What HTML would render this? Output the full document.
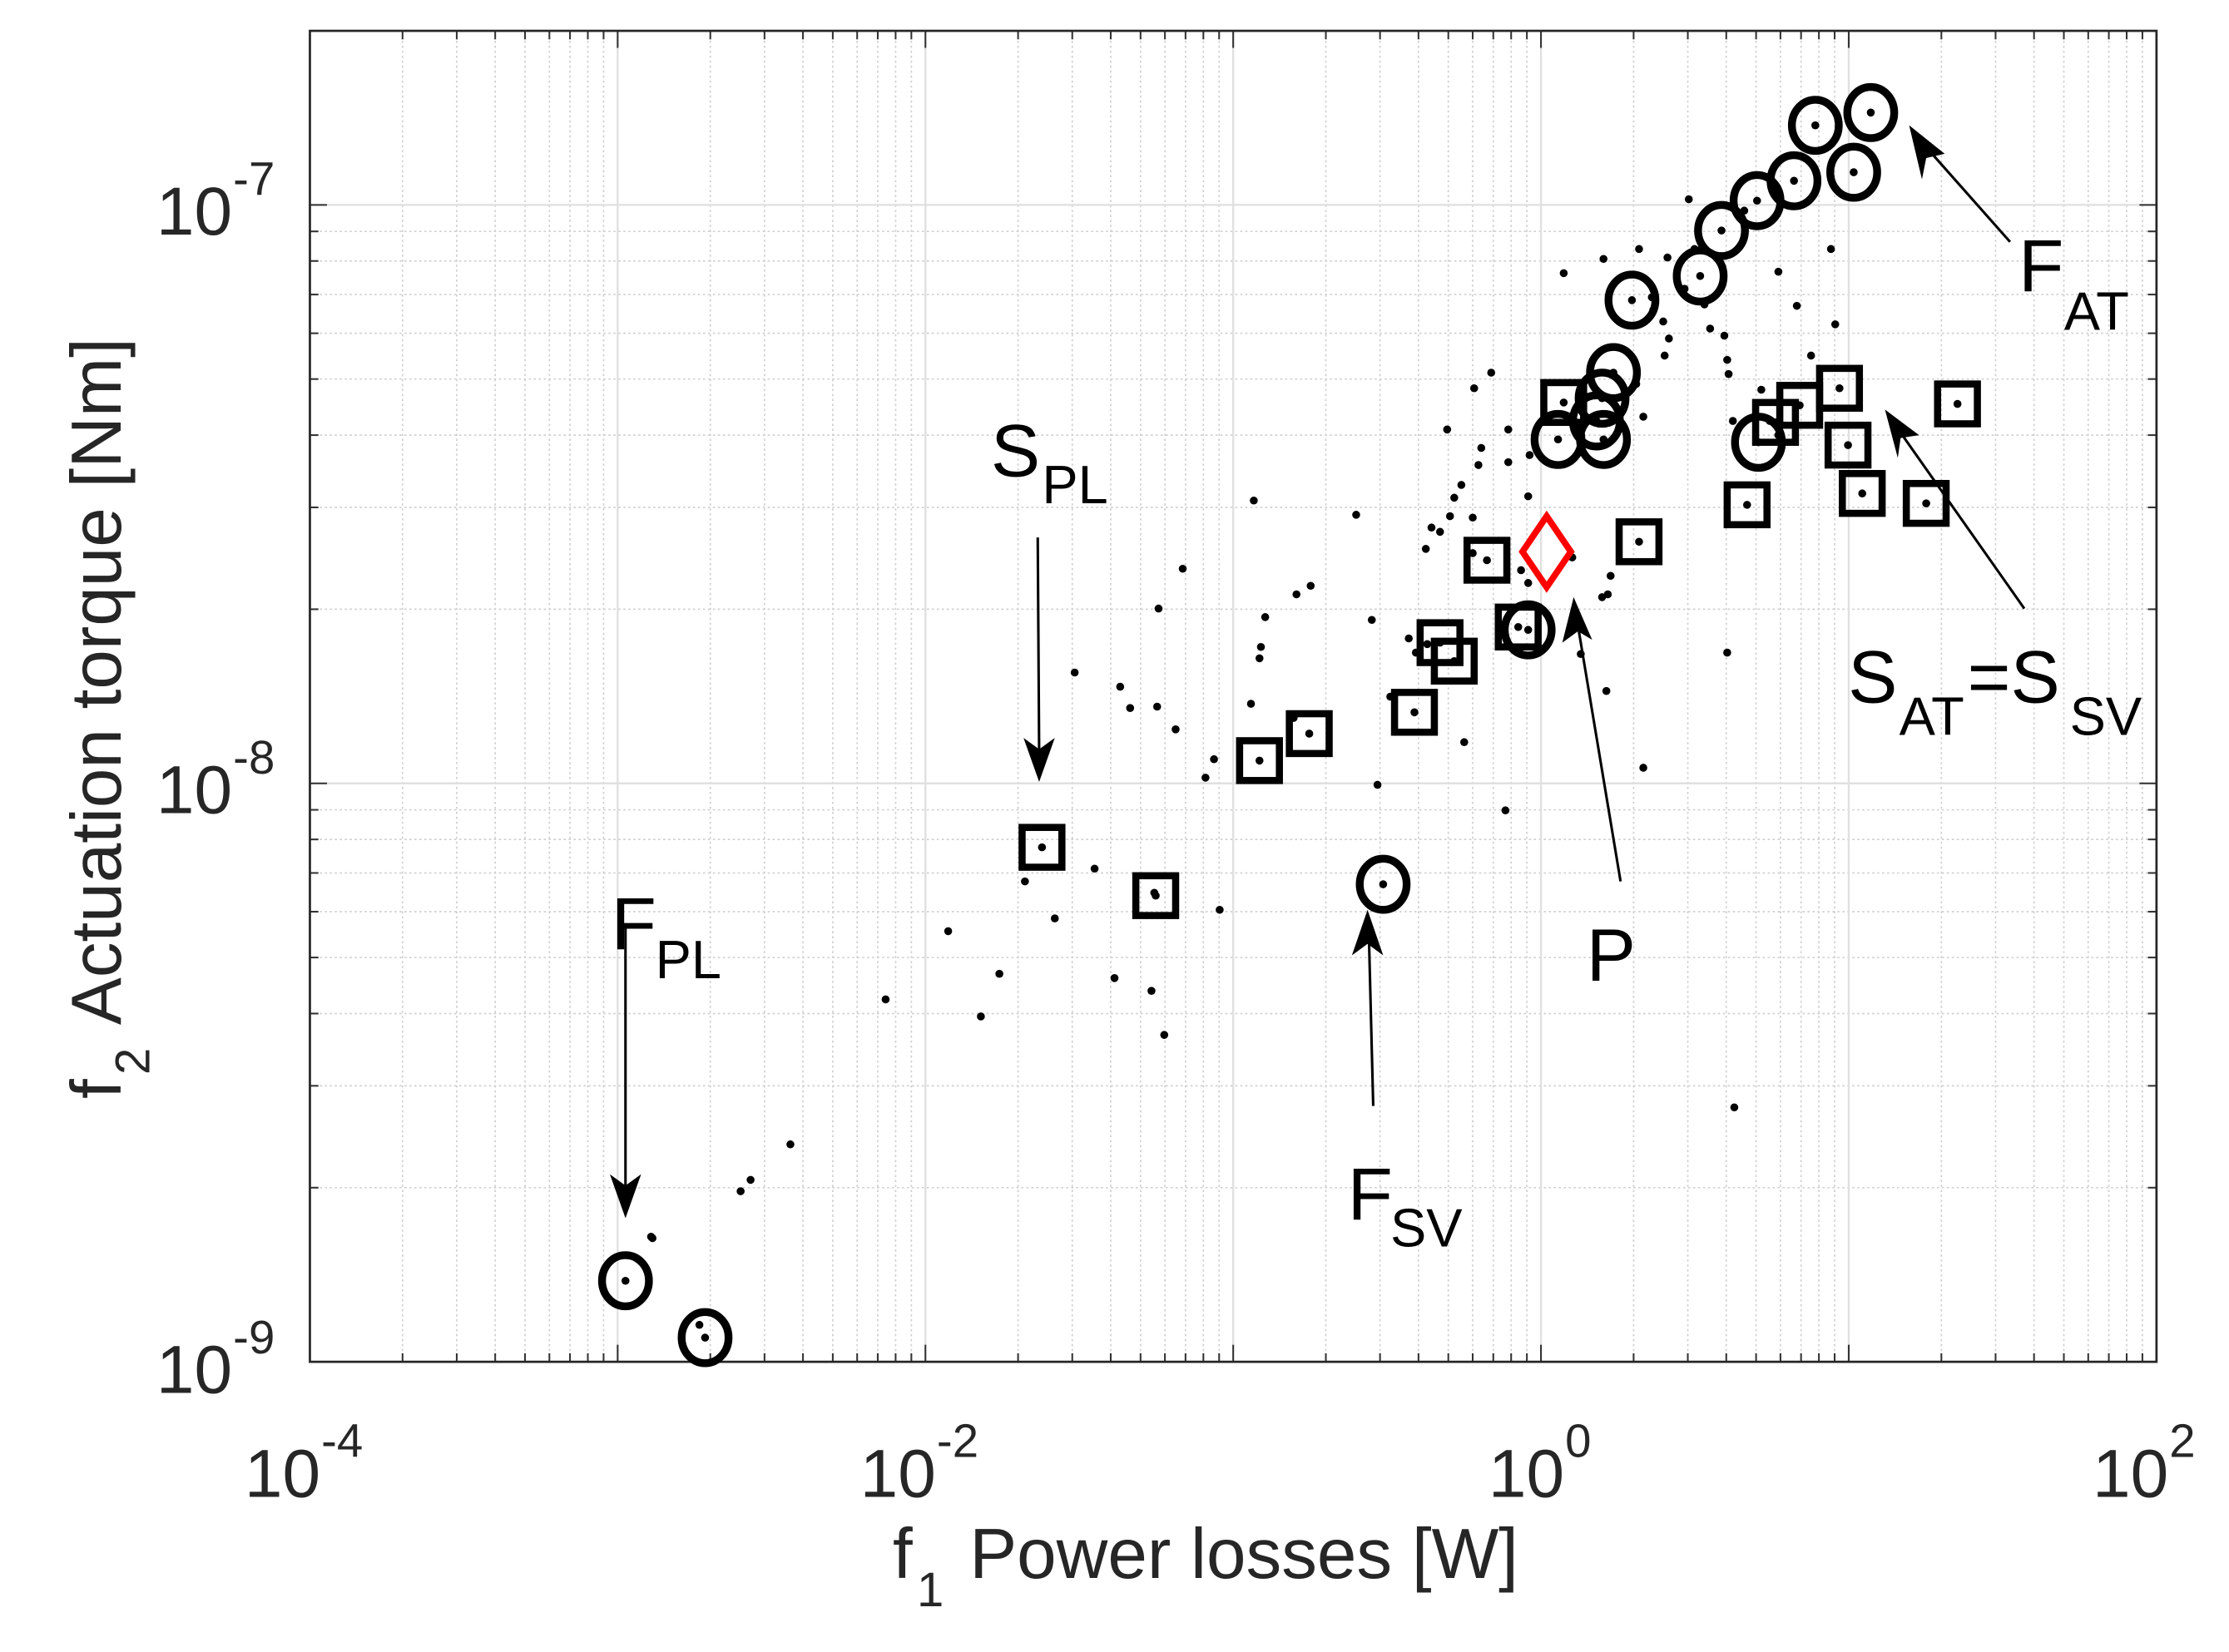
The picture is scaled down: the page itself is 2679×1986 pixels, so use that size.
<!DOCTYPE html>
<html><head><meta charset="utf-8"><style>
html,body{margin:0;padding:0;background:#fff;}
svg{display:block;}
text{font-family:"Liberation Sans",Arial,sans-serif;fill:#262626;}
.lbl{fill:#000;}
</style></head><body>
<svg id="s" width="2679" height="1986" viewBox="0 0 1568 1162" xmlns="http://www.w3.org/2000/svg">
<rect x="0" y="0" width="1568" height="1162" fill="#fff"/>
<g id="grid"></g>
<g id="data"></g>
<polygon points="1088,363 1105,388 1088,413 1071,388" fill="none" stroke="#ff0000" stroke-width="4.5"/>
<g stroke="#000" stroke-width="1.8" fill="#000">
<line x1="1414" y1="170" x2="1352" y2="100"/>
<polygon points="1343,88 1368,108 1355,111 1352,126" stroke="none"/>
<line x1="1424" y1="428" x2="1334" y2="300"/>
<polygon points="1326,288 1350,306 1337,308 1335,322" stroke="none"/>
<line x1="1140" y1="620" x2="1110" y2="440"/>
<polygon points="1107,420 1120,450 1110,444 1099,452" stroke="none"/>
<line x1="966" y1="778" x2="963" y2="660"/>
<polygon points="962,640 973,672 962,664 951,672" stroke="none"/>
<line x1="730" y1="378" x2="731" y2="530"/>
<polygon points="731,550 720,519 731,527 742,519" stroke="none"/>
<line x1="440" y1="652" x2="440" y2="837"/>
<polygon points="440,857 429,826 440,834 451,826" stroke="none"/>
</g>
<text class="lbl" x="1420" y="205" font-size="52">F</text><text class="lbl" x="1452" y="232" font-size="38">AT</text>
<text class="lbl" x="697" y="335" font-size="52">S</text><text class="lbl" x="733" y="354" font-size="38">PL</text>
<text class="lbl" x="1300" y="494" font-size="52">S</text><text class="lbl" x="1336" y="517" font-size="38">AT</text><text class="lbl" x="1384" y="494" font-size="52">=S</text><text class="lbl" x="1456" y="517" font-size="38">SV</text>
<text class="lbl" x="1116" y="690" font-size="52">P</text>
<text class="lbl" x="948" y="858" font-size="52">F</text><text class="lbl" x="978" y="877" font-size="38">SV</text>
<text class="lbl" x="430" y="668" font-size="52">F</text><text class="lbl" x="461" y="688" font-size="38">PL</text>
<text x="110" y="165" font-size="48">10</text><text x="164" y="137" font-size="33">-7</text>
<text x="110" y="572" font-size="48">10</text><text x="164" y="544" font-size="33">-8</text>
<text x="110" y="980" font-size="48">10</text><text x="164" y="952" font-size="33">-9</text>
<text x="172" y="1053" font-size="48">10</text><text x="226" y="1025" font-size="33">-4</text>
<text x="605" y="1053" font-size="48">10</text><text x="659" y="1025" font-size="33">-2</text>
<text x="1047" y="1053" font-size="48">10</text><text x="1101" y="1025" font-size="33">0</text>
<text x="1472" y="1053" font-size="48">10</text><text x="1526" y="1025" font-size="33">2</text>
<text x="628" y="1110" font-size="50">f</text><text x="645" y="1130" font-size="34">1</text><text x="682" y="1110" font-size="50">Power losses [W]</text>
<g transform="translate(85,485) rotate(-90)">
<text x="-288" y="0" font-size="50">f</text><text x="-271" y="20" font-size="34">2</text><text x="-236" y="0" font-size="50">Actuation torque [Nm]</text>
</g>
</svg>
<script>
(function(){
var NS="http://www.w3.org/2000/svg";
var L=218,R=1517,T=21.5,B=958;
function X(v){return L+(Math.log10(v)+4)*216.5;}
function Y(v){return B-(Math.log10(v)+9)*407;}
var g=document.getElementById('grid');
function el(p,n,a){var e=document.createElementNS(NS,n);for(var k in a)e.setAttribute(k,a[k]);p.appendChild(e);return e;}
for(var d=-4;d<2;d++)for(var k=2;k<=9;k++){var x=X(k*Math.pow(10,d));
 el(g,'line',{x1:x,y1:T,x2:x,y2:B,stroke:'#d0d0d0','stroke-width':1,'stroke-dasharray':'1.5 2'});
 el(g,'line',{x1:x,y1:B,x2:x,y2:B-6,stroke:'#333','stroke-width':1.2});
 el(g,'line',{x1:x,y1:T,x2:x,y2:T+6,stroke:'#333','stroke-width':1.2});}
for(var d=-9;d<-6;d++)for(var k=2;k<=9;k++){var v=k*Math.pow(10,d);if(v>2.0001e-7)continue;var y=Y(v);
 el(g,'line',{x1:L,y1:y,x2:R,y2:y,stroke:'#d0d0d0','stroke-width':1,'stroke-dasharray':'1.5 2'});
 el(g,'line',{x1:L,y1:y,x2:L+6,y2:y,stroke:'#333','stroke-width':1.2});
 el(g,'line',{x1:R,y1:y,x2:R-6,y2:y,stroke:'#333','stroke-width':1.2});}
for(var d=-3;d<2;d++){var x=X(Math.pow(10,d));
 el(g,'line',{x1:x,y1:T,x2:x,y2:B,stroke:'#e0e0e0','stroke-width':1.4});
 el(g,'line',{x1:x,y1:B,x2:x,y2:B-12,stroke:'#333','stroke-width':1.2});
 el(g,'line',{x1:x,y1:T,x2:x,y2:T+12,stroke:'#333','stroke-width':1.2});}
[-8,-7].forEach(function(d){var y=Y(Math.pow(10,d));
 el(g,'line',{x1:L,y1:y,x2:R,y2:y,stroke:'#e0e0e0','stroke-width':1.4});
 el(g,'line',{x1:L,y1:y,x2:L+12,y2:y,stroke:'#333','stroke-width':1.2});
 el(g,'line',{x1:R,y1:y,x2:R-12,y2:y,stroke:'#333','stroke-width':1.2});});
el(g,'rect',{x:L,y:T,width:R-L,height:B-T,fill:'none',stroke:'#262626','stroke-width':1.6});
var dd=document.getElementById('data');
var dots=[[623,703],[667,655],[690,715],[703,685],[742,646],[770,611],[784,688],[810,697],[819,728],[812,628],[858,640],[521,838],[528,830],[556,805],[458,870],[492,932],[756,473],[795,498],[814,497],[827,513],[848,547],[854,534],[880,495],[882,352],[886,463],[887,455],[890,434],[912,418],[922,412],[954,362],[832,400],[815,428],[788,483],[910,505],[965,436],[969,552],[978,490],[991,449],[996,459],[1004,453],[1003,386],[1007,371],[1013,374],[1020,363],[1036,364],[1036,389],[1030,522],[1040,327],[1042,315],[1049,262],[1037,273],[1075,349],[1061,325],[1076,320],[1061,302],[1018,302],[1028,341],[1023,350],[1070,401],[1112,460],[1127,420],[1131,418],[1133,405],[1156,540],[1215,459],[1220,779],[1100,192],[1128,182],[1153,175],[1173,181],[1188,140],[1192,175],[1227,148],[1185,203],[1162,209],[1163,218],[1170,226],[1151,270],[1156,293],[1174,238],[1171,250],[1199,214],[1203,231],[1213,236],[1215,253],[1216,263],[1219,296],[1239,274],[1245,296],[1251,306],[1251,191],[1264,215],[1288,175],[1274,250],[1291,228],[1059,570],[1106,392],[1075,410],[1130,486],[721,620],[459,871]];
var circ=[[1316,79],[1277,88],[1304,121],[1262,127],[1236,141],[1211,162],[1196,194],[1148,211],[1135,262],[1127,280],[1123,296],[1128,309],[1096,309],[1237,311],[1075,443],[973,622],[440,901],[496,941]];
var sq=[[1100,283],[1266,285],[1249,297],[1294,273],[1377,284],[1300,313],[1310,347],[1355,354],[1229,355],[1153,381],[1046,394],[1068,441],[1013,452],[1023,465],[995,501],[921,516],[886,535],[733,596],[813,630]];
dots.concat(circ,sq).forEach(function(p){el(dd,'circle',{cx:p[0],cy:p[1],r:2.8,fill:'#000'});});
circ.forEach(function(p){el(dd,'ellipse',{cx:p[0],cy:p[1],rx:16.5,ry:18,fill:'none',stroke:'#000','stroke-width':5.5});});
sq.forEach(function(p){el(dd,'rect',{x:p[0]-14,y:p[1]-14,width:28,height:28,fill:'none',stroke:'#000','stroke-width':5});});
})();
</script>
</body></html>
